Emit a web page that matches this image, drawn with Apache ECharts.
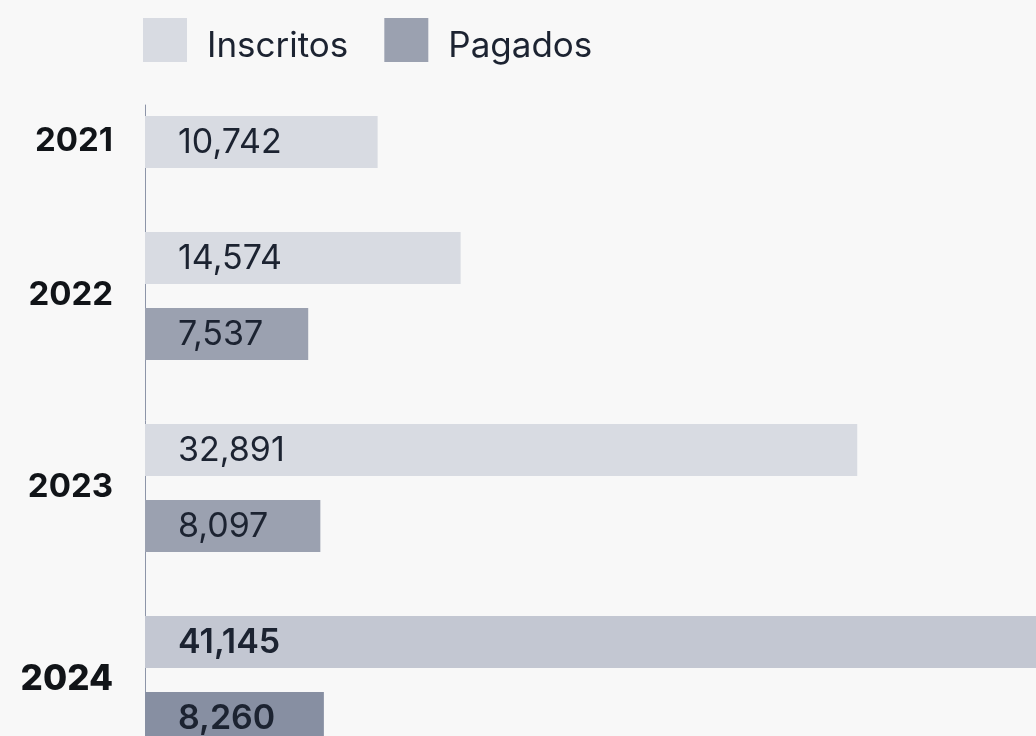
<!DOCTYPE html>
<html>
<head>
<meta charset="utf-8">
<script src="https://cdn.jsdelivr.net/npm/echarts@6/dist/echarts.min.js"></script>
<style>
  html, body { margin: 0; padding: 0; background: #f8f8f8; }
  #chart { width: 1036px; height: 736px; }
</style>
</head>
<body>
<div id="chart"></div>
<script>
  // datos
  const years = ['2021', '2022', '2023', '2024'];
  const inscritos = [10742, 14574, 32891, 41145];
  const pagados = [null, 7537, 8097, 8260];
  const seriesNames = ['Inscritos', 'Pagados'];

  const baseColors = ['#d8dbe2', '#9ba1b0'];
  const hiColors = ['#c3c7d2', '#878fa2'];
  const FONT = 'Inter, "Noto Sans", sans-serif';

  // alto de barra y separaciones (en unidades del eje y = px)
  const BAR_H = 52, INNER_GAP = 24, GROUP_GAP = 64, TOP_PAD = 11;
  const GRID_TOP = 105;

  const barRows = [[], []];
  const yearRows = [];
  let cursor = TOP_PAD;
  years.forEach((y, i) => {
    const present = [inscritos[i], pagados[i]]
      .map((v, s) => ({ v, s }))
      .filter(d => d.v != null);
    const groupTop = cursor;
    present.forEach((d, k) => {
      barRows[d.s].push([d.v, cursor + BAR_H / 2, i]);
      cursor += BAR_H + (k < present.length - 1 ? INNER_GAP : 0);
    });
    yearRows.push([0, (groupTop + cursor) / 2, i]);
    cursor += GROUP_GAP;
  });

  const fmt = v => v.toLocaleString('en-US');
  const last = years.length - 1;

  let myChart = echarts.init(document.getElementById('chart'));

  function barRender(s) {
    return function (params, api) {
      const v = api.value(0), yc = api.value(1), yi = api.value(2);
      const p0 = api.coord([0, yc]);
      const p1 = api.coord([v, yc]);
      const h = api.size([0, BAR_H])[1];
      const hl = yi === last;
      return {
        type: 'group',
        children: [
          {
            type: 'rect',
            shape: { x: p0[0], y: p0[1] - h / 2, width: p1[0] - p0[0], height: h },
            style: { fill: hl ? hiColors[s] : baseColors[s] }
          },
          {
            type: 'text',
            style: {
              text: fmt(v),
              x: p0[0] + 33,
              y: p0[1] + 1,
              align: 'left',
              verticalAlign: 'middle',
              fill: '#1c2331',
              font: (hl ? '600 ' : '400 ') + '34px ' + FONT
            }
          }
        ]
      };
    };
  }

  myChart.setOption({
    backgroundColor: '#f8f8f8',
    animation: false,
    legend: {
      left: 138,
      top: 13,
      icon: 'rect',
      itemWidth: 44,
      itemHeight: 44,
      itemGap: 36,
      data: seriesNames,
      formatter: name => '{t|' + name + '}',
      textStyle: {
        fontFamily: FONT,
        fontSize: 35,
        color: '#1c2331',
        rich: {
          t: {
            fontFamily: FONT,
            fontSize: 35,
            color: '#1c2331',
            padding: [12, 0, 0, 15]
          }
        }
      }
    },
    grid: { left: 145, right: -6, top: GRID_TOP, bottom: 0 },
    xAxis: {
      type: 'value',
      min: 0,
      max: 'dataMax',
      show: false
    },
    yAxis: {
      type: 'value',
      inverse: true,
      min: 0,
      max: 736 - GRID_TOP,
      axisLine: { show: true, onZero: false, lineStyle: { color: '#8d95a8', width: 1 } },
      axisTick: { show: false },
      axisLabel: { show: false },
      splitLine: { show: false }
    },
    series: [
      {
        name: seriesNames[0],
        type: 'custom',
        itemStyle: { color: baseColors[0] },
        encode: { x: 0, y: 1 },
        data: barRows[0],
        renderItem: barRender(0)
      },
      {
        name: seriesNames[1],
        type: 'custom',
        itemStyle: { color: baseColors[1] },
        encode: { x: 0, y: 1 },
        data: barRows[1],
        renderItem: barRender(1)
      },
      {
        name: 'years',
        type: 'custom',
        encode: { x: 0, y: 1 },
        data: yearRows,
        renderItem: function (params, api) {
          const yc = api.value(1), yi = api.value(2);
          const p = api.coord([0, yc]);
          const hl = yi === last;
          return {
            type: 'text',
            style: {
              text: years[yi],
              x: p[0] - 32,
              y: p[1] - 1,
              align: 'right',
              verticalAlign: 'middle',
              fill: '#111418',
              font: (hl ? '800 35px ' : '700 33px ') + FONT
            }
          };
        }
      }
    ]
  });

  window.onresize = () => {
    myChart.resize();
  };
</script>
</body>
</html>
